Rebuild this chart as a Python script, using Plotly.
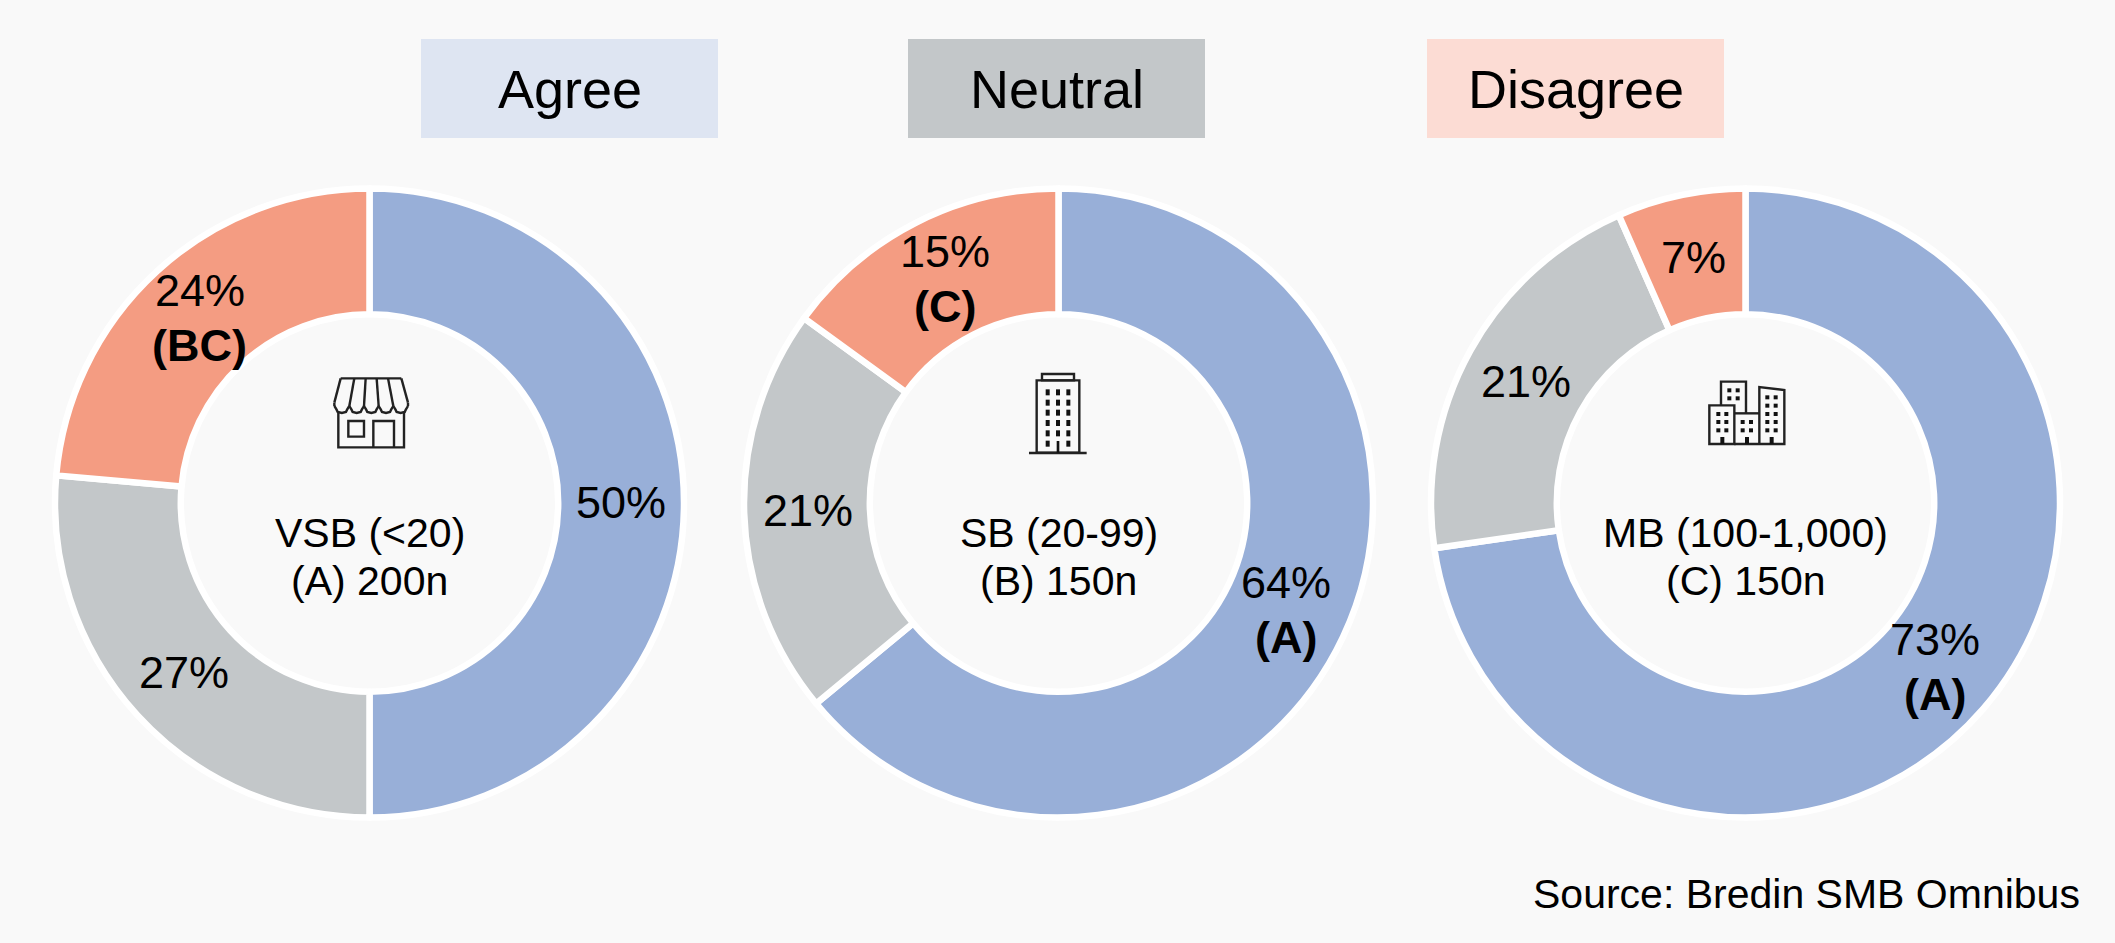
import math
import plotly.graph_objects as go

W, H = 2115, 943
FONT = "Liberation Sans, Arial, sans-serif"

# Data
categories = ["Agree", "Neutral", "Disagree"]
vsb_values = [50, 26.4, 23.6]
sb_values = [64, 21, 15]
mb_values = [72.7, 20.7, 6.6]
vsb_text = ["50%", "27%", "24%<br><b>(BC)</b>"]
sb_text = ["64%<br><b>(A)</b>", "21%", "15%<br><b>(C)</b>"]
mb_text = ["73%<br><b>(A)</b>", "21%", "7%"]
segment_labels = ["VSB (<20)", "SB (20-99)", "MB (100-1,000)"]
sample_labels = ["(A) 200n", "(B) 150n", "(C) 150n"]
source = "Source: Bredin SMB Omnibus"

# Style
colors = ["#98AFD8", "#C3C7C9", "#F49C82"]
box_colors = ["#DEE5F2", "#C3C7C9", "#FCDCD4"]
bg = "#F9F9F9"
centers = [369.5, 1058.5, 1745.5]
CY = 503
R = 314.5
MID_R = 251
LINE_GAP = 55
box_x = [(421, 718), (908, 1205), (1427, 1724)]


def fx(x):
    return x / W


def fy(y):
    return 1 - y / H


fig = go.Figure()
shapes, annotations = [], []
for cx, vals, txt in zip(centers, [vsb_values, sb_values, mb_values], [vsb_text, sb_text, mb_text]):
    fig.add_trace(go.Pie(
        labels=categories, values=vals, textinfo="none",
        hole=0.6, sort=False, direction="clockwise", rotation=0,
        marker=dict(colors=colors, line=dict(color="#FFFFFF", width=6.5)),
        domain=dict(x=[fx(cx - R), fx(cx + R)], y=[fy(CY + R), fy(CY - R)]),
        showlegend=False, hoverinfo="skip",
    ))
    total = sum(vals)
    cum = 0
    for v, t in zip(vals, txt):
        a = 2 * math.pi * (cum + v / 2) / total
        cum += v
        lines = t.split("<br>")
        for i, line in enumerate(lines):
            dy = (i - (len(lines) - 1) / 2) * LINE_GAP
            annotations.append(dict(text=line, x=fx(cx + MID_R * math.sin(a)),
                                    y=fy(CY - MID_R * math.cos(a) + dy),
                                    xref="paper", yref="paper", showarrow=False,
                                    font=dict(size=45, color="#000000", family=FONT),
                                    xanchor="center", yanchor="middle", align="center"))


def path(d_points, closed=False, fill=None, width=2.4):
    d = "M" + " L".join(f"{fx(x):.5f},{fy(y):.5f}" for x, y in d_points)
    if closed:
        d += " Z"
    shapes.append(dict(type="path", xref="paper", yref="paper", path=d,
                       line=dict(color="#222222" if width else "rgba(0,0,0,0)", width=width),
                       fillcolor=fill or "rgba(0,0,0,0)", layer="above"))


def rect(x0, y0, x1, y1, fill=None, width=2.4):
    path([(x0, y0), (x1, y0), (x1, y1), (x0, y1)], closed=True, fill=fill, width=width)


def zx(z, ox):
    return ox + z / 3


def zy(z, oy=340):
    return oy + z / 3


# Store icon (zoom-derived pixel geometry)
ox = 300
path([(zx(115, ox), zy(215)), (zx(115, ox), zy(322)), (zx(312, ox), zy(322)), (zx(312, ox), zy(215))])
rect(zx(145, ox), zy(243), zx(192, ox), zy(290))
path([(zx(220, ox), zy(322)), (zx(220, ox), zy(243)), (zx(282, ox), zy(243)), (zx(282, ox), zy(322))])
tops = [122, 163, 197, 230, 264, 304]
bottoms = [103, 148, 192, 236, 280, 324]
path([(zx(tops[0], ox), zy(115)), (zx(tops[-1], ox), zy(115))])
for t, b in zip(tops, bottoms):
    path([(zx(t, ox), zy(115)), (zx(b, ox), zy(188 if t in (122, 304) else 198))])
for b0, b1 in zip(bottoms[:-1], bottoms[1:]):
    m = (b0 + b1) / 2
    r = (b1 - b0) / 2
    pts = [(b0, 198), (b0 + 0.3 * r, 209), (m - 0.55 * r, 216), (m, 219),
           (m + 0.55 * r, 216), (b1 - 0.3 * r, 209), (b1, 198)]
    path([(zx(a, ox), zy(c)) for a, c in pts])
path([(zx(103, ox), zy(188)), (zx(103, ox), zy(198))])
path([(zx(324, ox), zy(188)), (zx(324, ox), zy(198))])

# Office tower icon
ox = 1000
rect(zx(110, ox), zy(121), zx(238, ox), zy(338))
rect(zx(126, ox), zy(102), zx(222, ox), zy(121))
path([(zx(87, ox), zy(339)), (zx(260, ox), zy(339))])
for wx in (143, 174, 205):
    for wy in (157, 188, 218, 249, 280, 311):
        if wx == 174 and wy == 311:
            continue
        rect(zx(wx - 6, ox), zy(wy - 9), zx(wx + 6, ox), zy(wy + 9), fill="#111111", width=0)
rect(zx(170, ox), zy(303), zx(178, ox), zy(338), fill="#111111", width=0)

# City icon
ox = 1680
rect(zx(88, ox), zy(196), zx(163, ox), zy(312))
path([(zx(123, ox), zy(196)), (zx(123, ox), zy(125)), (zx(198, ox), zy(125)), (zx(198, ox), zy(220))])
path([(zx(163, ox), zy(220)), (zx(238, ox), zy(220))])
path([(zx(163, ox), zy(312)), (zx(313, ox), zy(312)), (zx(313, ox), zy(150)),
      (zx(238, ox), zy(141)), (zx(238, ox), zy(312))])
windows = [(148, 151), (173, 151), (148, 175), (173, 175),
           (115, 222), (139, 222), (115, 246), (139, 246), (115, 271), (139, 271),
           (188, 246), (213, 246), (188, 271), (213, 271),
           (262, 172), (287, 172), (262, 197), (287, 197), (262, 222), (287, 222),
           (262, 246), (287, 246), (262, 271), (287, 271)]
for wx, wy in windows:
    rect(zx(wx - 6, ox), zy(wy - 6), zx(wx + 6, ox), zy(wy + 6), fill="#111111", width=0)
for wx in (127, 201, 275):
    rect(zx(wx - 6, ox), zy(291), zx(wx + 6, ox), zy(312), fill="#111111", width=0)

# Legend boxes
for (x0, x1), col, name in zip(box_x, box_colors, categories):
    shapes.append(dict(type="rect", xref="paper", yref="paper",
                       x0=fx(x0), x1=fx(x1), y0=fy(138), y1=fy(39),
                       fillcolor=col, line=dict(width=0), layer="below"))
    annotations.append(dict(text=name, x=fx((x0 + x1) / 2), y=fy(89), xref="paper", yref="paper",
                            showarrow=False, font=dict(size=54, color="#000000", family=FONT),
                            xanchor="center", yanchor="middle"))

# Centre labels
for cx, seg, samp in zip(centers, segment_labels, sample_labels):
    for text, y in ((seg, 533), (samp, 581)):
        annotations.append(dict(text=text, x=fx(cx), y=fy(y), xref="paper", yref="paper",
                                showarrow=False, font=dict(size=41, color="#000000", family=FONT),
                                xanchor="center", yanchor="middle"))

annotations.append(dict(text=source, x=fx(2082), y=fy(894), xref="paper", yref="paper",
                        showarrow=False, font=dict(size=41, color="#000000", family=FONT),
                        xanchor="right", yanchor="middle"))

fig.update_layout(width=W, height=H, margin=dict(l=0, r=0, t=0, b=0),
                  paper_bgcolor=bg, plot_bgcolor=bg, font=dict(family=FONT),
                  shapes=shapes, annotations=annotations)
fig.write_html("out.html", post_script="document.body.style.margin='0';",
               config=dict(displayModeBar=False))
